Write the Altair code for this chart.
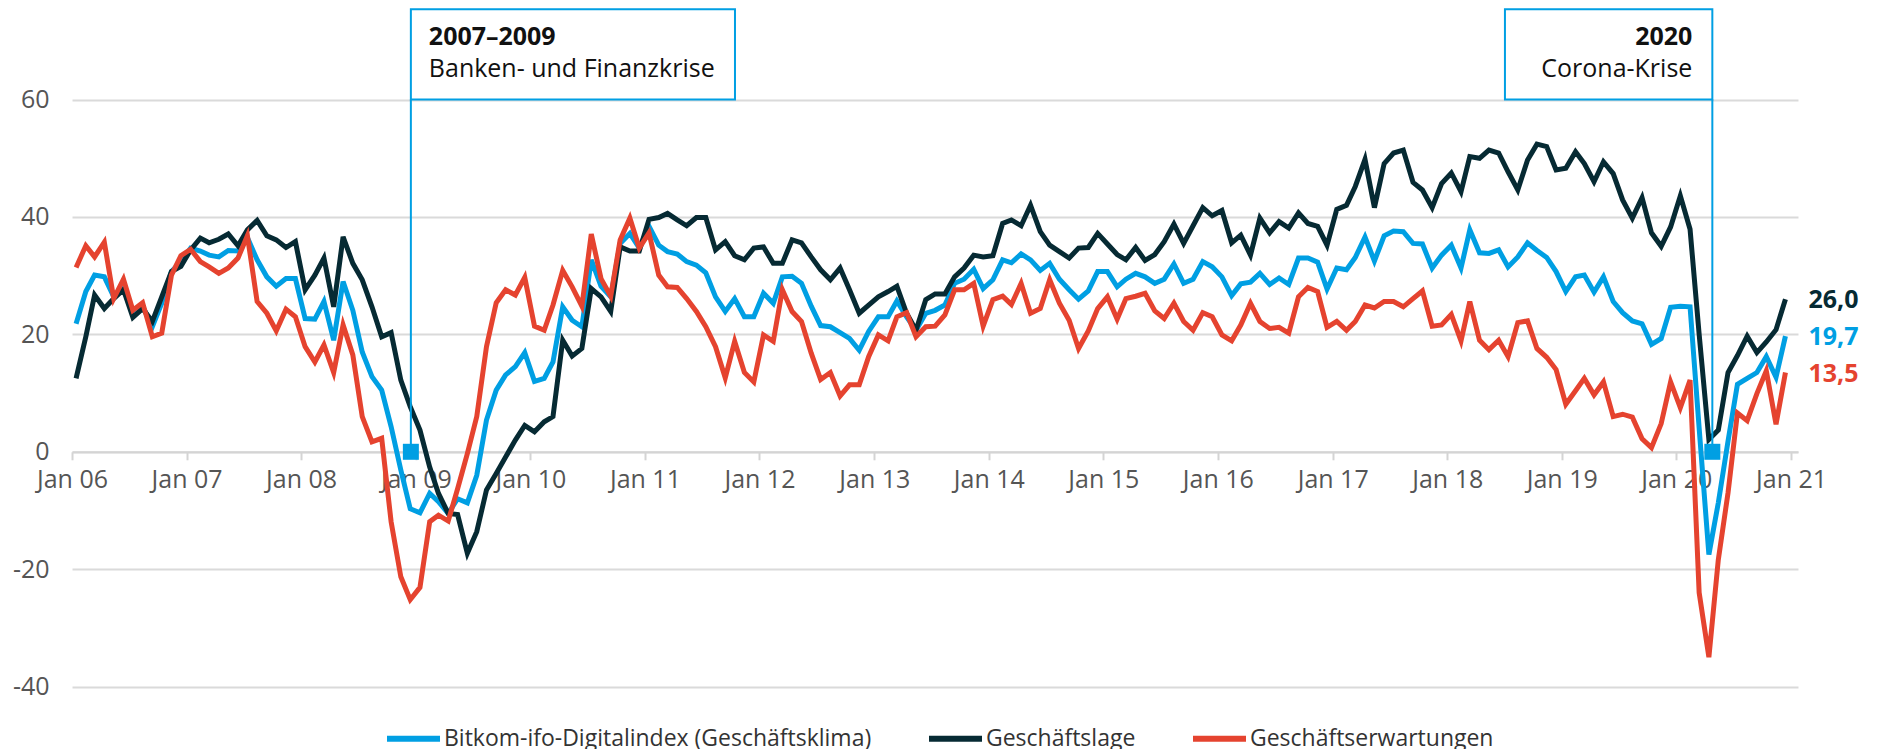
import altair as alt
import pandas as pd

# ---------------- data ----------------
S1 = "Bitkom-ifo-Digitalindex (Geschäftsklima)"
S2 = "Geschäftslage"
S3 = "Geschäftserwartungen"

# monthly observations Jan 2006 - Dec 2020 (plotted mid-month)
months = [f"{2006 + i // 12}-{i % 12 + 1:02d}-14T00:00:00" for i in range(180)]

klima = [
    21.8, 27.3, 30.1, 29.8, 26.4, 28.3, 23.5, 24.8, 21.3, 25.3, 30.7, 32.4,
    34.7, 34.2, 33.5, 33.2, 34.3, 34.2, 36.5, 32.7, 29.8, 28.2, 29.5, 29.5,
    22.7, 22.6, 25.6, 19.0, 29.0, 24.1, 17.0, 12.8, 10.5, 4.3, -3.1, -9.7,
    -10.4, -7.1, -8.5, -10.5, -8.0, -8.7, -4.0, 5.4, 10.5, 13.1, 14.5, 16.9,
    12.0, 12.5, 15.3, 24.7, 22.4, 21.3, 32.7, 28.2, 26.4, 35.5, 37.2, 34.7,
    38.4, 35.2, 34.1, 33.7, 32.4, 31.8, 30.5, 26.4, 23.9, 26.1, 23.0, 23.0,
    27.0, 25.3, 29.8, 29.9, 28.7, 24.8, 21.5, 21.3, 20.3, 19.3, 17.3, 20.5,
    23.0, 23.0, 25.7, 23.0, 20.7, 23.6, 24.1, 25.0, 28.7, 29.4, 31.1, 27.8,
    29.3, 32.7, 32.2, 33.7, 32.7, 30.9, 32.1, 29.4, 27.6, 26.0, 27.4, 30.7,
    30.7, 28.1, 29.4, 30.4, 29.8, 28.7, 29.4, 32.0, 28.7, 29.4, 32.4, 31.5,
    29.8, 26.6, 28.6, 28.9, 30.4, 28.5, 29.6, 28.5, 33.0, 33.0, 32.3, 27.7,
    31.3, 31.0, 33.1, 36.6, 32.5, 36.8, 37.6, 37.5, 35.5, 35.4, 31.3, 33.5,
    35.2, 31.3, 37.8, 33.9, 33.8, 34.4, 31.5, 33.2, 35.6, 34.3, 33.1, 30.7,
    27.3, 29.8, 30.1, 27.2, 29.8, 25.6, 23.7, 22.3, 21.8, 18.3, 19.3, 24.6,
    24.8, 24.7, 4.0, -17.5, -8.7, 1.8, 11.5, 12.5, 13.5, 16.2, 12.7, 19.7,
]

lage = [
    12.5, 19.6, 26.7, 24.4, 26.1, 27.6, 22.9, 24.4, 22.2, 26.4, 30.7, 31.6,
    34.4, 36.4, 35.6, 36.2, 37.1, 35.1, 37.8, 39.4, 36.8, 36.1, 34.8, 35.8,
    27.6, 30.1, 33.0, 24.7, 36.6, 32.1, 29.3, 24.7, 19.6, 20.3, 12.2, 7.7,
    3.7, -2.6, -7.1, -10.5, -10.7, -17.3, -13.6, -6.5, -3.7, -0.9, 2.0, 4.5,
    3.4, 5.1, 6.0, 19.0, 16.3, 17.6, 27.8, 26.4, 23.9, 34.9, 34.2, 34.2,
    39.6, 39.9, 40.6, 39.5, 38.5, 39.9, 39.9, 34.4, 35.8, 33.4, 32.7, 34.7,
    34.9, 32.1, 32.1, 36.1, 35.6, 33.2, 31.0, 29.3, 31.3, 27.6, 23.6, 25.0,
    26.4, 27.3, 28.2, 23.6, 20.7, 25.9, 26.9, 26.9, 29.8, 31.3, 33.5, 33.2,
    33.4, 38.9, 39.5, 38.5, 42.0, 37.5, 35.2, 34.1, 33.0, 34.7, 34.8, 37.2,
    35.4, 33.6, 32.7, 34.8, 32.6, 33.6, 35.8, 38.8, 35.5, 38.5, 41.6, 40.2,
    41.1, 35.6, 36.9, 33.5, 39.8, 37.3, 39.2, 38.1, 40.7, 38.9, 38.4, 35.2,
    41.3, 42.0, 45.2, 49.8, 41.6, 49.1, 50.9, 51.4, 45.9, 44.6, 41.6, 45.7,
    47.5, 44.3, 50.3, 50.0, 51.4, 50.9, 47.7, 44.6, 49.7, 52.4, 52.0, 48.0,
    48.3, 51.1, 49.1, 46.0, 49.4, 47.4, 42.9, 39.8, 43.3, 37.3, 35.0, 38.3,
    43.6, 37.9, 20.0, 2.1, 3.7, 13.5, 16.4, 19.7, 16.9, 18.7, 20.8, 26.0,
]

erwartungen = [
    31.4, 35.1, 33.2, 35.7, 26.1, 29.4, 24.1, 25.4, 19.6, 20.2, 30.1, 33.4,
    34.5, 32.4, 31.5, 30.4, 31.3, 33.0, 36.8, 25.6, 23.6, 20.6, 24.3, 23.0,
    17.9, 15.3, 18.2, 13.5, 21.6, 16.5, 6.0, 1.7, 2.3, -11.9, -21.3, -25.2,
    -23.1, -11.9, -10.8, -11.8, -6.3, -0.3, 6.0, 17.9, 25.4, 27.6, 26.7, 29.7,
    21.4, 20.7, 25.0, 30.9, 28.1, 24.8, 37.1, 29.5, 26.5, 36.1, 39.8, 34.7,
    37.3, 30.1, 28.1, 28.0, 26.1, 23.9, 21.3, 17.9, 12.6, 18.8, 13.5, 11.9,
    19.9, 18.8, 27.6, 23.9, 22.2, 16.8, 12.3, 13.5, 9.5, 11.4, 11.4, 16.2,
    19.9, 18.9, 23.0, 23.7, 19.6, 21.3, 21.4, 23.3, 27.6, 27.6, 28.7, 21.4,
    25.9, 26.5, 25.1, 28.7, 23.6, 24.4, 29.3, 25.3, 22.4, 17.6, 20.6, 24.4,
    26.4, 22.6, 26.1, 26.5, 27.0, 24.0, 22.7, 25.3, 22.2, 20.7, 23.7, 23.0,
    19.9, 18.9, 21.6, 25.3, 22.2, 21.0, 21.2, 20.2, 26.4, 28.0, 27.3, 21.2,
    22.2, 20.7, 22.2, 25.0, 24.5, 25.6, 25.6, 24.7, 26.1, 27.4, 21.4, 21.6,
    23.4, 18.9, 25.6, 19.0, 17.4, 19.0, 16.2, 22.0, 22.3, 17.6, 16.1, 14.0,
    8.1, 10.4, 12.5, 9.7, 11.9, 6.0, 6.4, 5.9, 2.2, 0.7, 4.8, 11.9,
    7.5, 12.2, -24.0, -35.0, -18.4, -7.0, 6.6, 5.3, 9.9, 13.8, 4.7, 13.5,
]

series_names = [S1, S2, S3]
series_colors = ["#009fe3", "#062a33", "#e5432f"]
series_values = [klima, lage, erwartungen]

y_ticks = [-40, -20, 0, 20, 40, 60]
x_tick_years = list(range(2006, 2022))

# annotations
crisis_titles = ["2007–2009", "2020"]
crisis_texts = ["Banken- und Finanzkrise", "Corona-Krise"]
box_start = ["2008-12-16T00:00:00", "2018-07-04T00:00:00"]
box_end = ["2011-10-15T00:00:00", "2020-04-25T00:00:00"]
marker_dates = ["2008-12-16T00:00:00", "2020-04-25T00:00:00"]
box_bottom, box_top = 60, 75.4
title_level, text_level = 69.3, 63.9

# ---------------- tables ----------------
rows = []
for name, vals in zip(series_names, series_values):
    for d, v in zip(months, vals):
        rows.append({"date": d, "value": v, "series": name})
df = pd.DataFrame(rows)

end_df = pd.DataFrame({
    "date": [months[-1]] * 3,
    "value": [vals[-1] for vals in series_values],
    "series": series_names,
    "label": [f"{vals[-1]:.1f}".replace(".", ",") for vals in series_values],
})

box_df = pd.DataFrame({"date": box_start, "date2": box_end,
                       "value": [box_bottom] * 2, "value2": [box_top] * 2})
rule_df = pd.DataFrame({"date": marker_dates, "value": [0, 0], "value2": [box_bottom] * 2})
mark_df = pd.DataFrame({"date": marker_dates, "value": [0, 0]})
t1_df = pd.DataFrame({"date": [box_start[0]], "value": [title_level], "t": [crisis_titles[0]]})
t2_df = pd.DataFrame({"date": [box_start[0]], "value": [text_level], "t": [crisis_texts[0]]})
t3_df = pd.DataFrame({"date": [box_end[1]], "value": [title_level], "t": [crisis_titles[1]]})
t4_df = pd.DataFrame({"date": [box_end[1]], "value": [text_level], "t": [crisis_texts[1]]})

# ---------------- encodings ----------------
FONT = "Open Sans"
BLUE = series_colors[0]

x_scale = alt.Scale(domain=[alt.DateTime(year=2006, month=1, date=1),
                            alt.DateTime(year=2021, month=1, date=23)])
y_scale = alt.Scale(domain=[-40, 75.6], nice=False, zero=False)

x_axis = alt.Axis(
    values=[alt.DateTime(year=y, month=1, date=1) for y in x_tick_years],
    format="Jan %y", labelFontSize=25, labelFont=FONT, labelColor="#555555",
    tickSize=8, tickColor="#d4d4d4", tickWidth=2, domainColor="#d4d4d4",
    domainWidth=2, labelPadding=8, offset=-234.8, grid=False,
    labelFlush=False, labelOverlap=False, title=None,
)
y_axis = alt.Axis(
    values=y_ticks, grid=True, gridColor="#dadada", gridWidth=2,
    domain=False, ticks=False, labelPadding=23, labelFontSize=25,
    labelFont=FONT, labelColor="#555555", title=None,
    labelExpr="datum.value < 0 ? '-' + abs(datum.value) : '' + datum.value",
)

X = alt.X("date:T", scale=x_scale, axis=x_axis, title=None)
Y = alt.Y("value:Q", scale=y_scale, axis=y_axis, title=None)
color_scale = alt.Scale(domain=series_names, range=series_colors)

lines = alt.Chart(df).mark_line(strokeWidth=5, strokeJoin="miter").encode(
    x=X, y=Y,
    color=alt.Color("series:N", scale=color_scale, sort=series_names,
                    legend=alt.Legend(
                        orient="none", legendX=312, legendY=701,
                        direction="horizontal", title=None,
                        symbolType="stroke", symbolSize=2809,
                        symbolStrokeWidth=6, labelFontSize=23,
                        labelFont=FONT, labelColor="#333333",
                        columnPadding=45, labelOffset=1, padding=0,
                        labelLimit=600)),
)

ends = alt.Chart(end_df).mark_text(
    align="left", baseline="middle", dx=23, dy=1, fontSize=25,
    fontWeight="bold", font=FONT,
).encode(x=X, y=Y, text="label:N",
         color=alt.Color("series:N", scale=color_scale, legend=None))

boxes = alt.Chart(box_df).mark_rect(
    fillOpacity=0, stroke=BLUE, strokeWidth=2
).encode(x=X, x2="date2:T", y=Y, y2="value2:Q")

rules = alt.Chart(rule_df).mark_rule(color=BLUE, strokeWidth=2).encode(
    x=X, y=Y, y2="value2:Q")

markers = alt.Chart(mark_df).mark_square(
    size=256, color=BLUE, opacity=1).encode(x=X, y=Y)

def label(d, align, dx, bold):
    return alt.Chart(d).mark_text(
        align=align, baseline="alphabetic", dx=dx, fontSize=25, font=FONT,
        fontWeight="bold" if bold else "normal", color="#111111",
    ).encode(x=X, y=Y, text="t:N")

chart = alt.layer(
    lines, boxes, rules, markers, ends,
    label(t1_df, "left", 18, True), label(t2_df, "left", 18, False),
    label(t3_df, "right", -20, True), label(t4_df, "right", -20, False),
).properties(
    width=1726, height=678.6,
    padding={"left": 64, "top": 0, "right": 70, "bottom": 72},
    autosize=alt.AutoSizeParams(type="none"),
    background="white",
).configure_view(stroke=None)

chart.save("out.html", embed_options={"renderer": "svg", "actions": False})
